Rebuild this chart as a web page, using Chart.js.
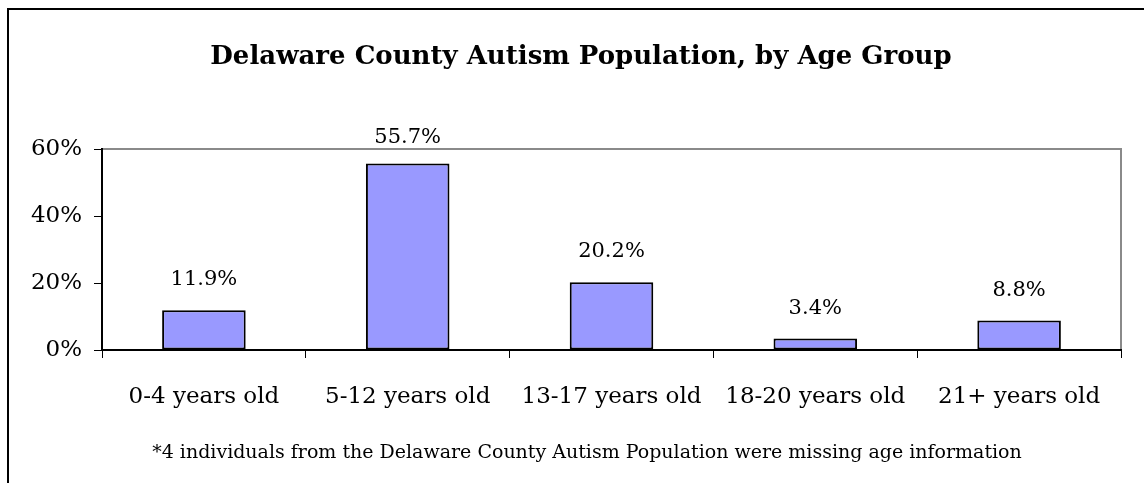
<!DOCTYPE html>
<html>
<head>
<meta charset="utf-8">
<script src="https://cdn.jsdelivr.net/npm/chart.js@4/dist/chart.umd.min.js"></script>
<style>
  body { margin: 0; background: #fff; }
  #wrap { width: 1144px; height: 483px; }
</style>
</head>
<body>
<div id="wrap"><canvas id="ageChart" width="1144" height="483"></canvas></div>
<script>
// chart data
const ageGroups = ['0-4 years old', '5-12 years old', '13-17 years old', '18-20 years old', '21+ years old'];
const percentValues = [11.9, 55.7, 20.2, 3.4, 8.8];
const yTicks = [0, 20, 40, 60];

const chartTitle = 'Delaware County Autism Population, by Age Group';
const footNote = '*4 individuals from the Delaware County Autism Population were missing age information';

const serif = "'DejaVu Serif', 'Liberation Serif', serif";

// outer frame, plot box, titles and value labels
const framePlugin = {
  id: 'frame',
  beforeDraw(chart) {
    const ctx = chart.ctx;
    ctx.save();
    ctx.fillStyle = '#fff';
    ctx.fillRect(0, 0, chart.width, chart.height);
    ctx.strokeStyle = '#000';
    ctx.lineWidth = 2;
    ctx.strokeRect(8, 9, 1300, 700);
    // plot area box (top/right are grey)
    const a = chart.chartArea;
    ctx.strokeStyle = '#8a8a8a';
    ctx.strokeRect(a.left, a.top, a.right - a.left, a.bottom - a.top);
    ctx.restore();
  },
  afterDraw(chart) {
    const ctx = chart.ctx;
    ctx.save();
    ctx.fillStyle = '#000';
    ctx.textAlign = 'center';
    ctx.textBaseline = 'alphabetic';
    ctx.font = "bold 26px " + serif;
    ctx.fillText(chartTitle, 581, 64);
    ctx.font = "19px " + serif;
    ctx.fillText(footNote, 587, 458);

    // value labels above bars
    ctx.font = "21px " + serif;
    const meta = chart.getDatasetMeta(0);
    meta.data.forEach(function(bar, i) {
      const v = percentValues[i];
      let y = bar.y - 25;
      if (y < chart.chartArea.top - 6) y = chart.chartArea.top - 6;
      ctx.fillText(v.toFixed(1) + '%', bar.x, y);
    });
    ctx.restore();
  }
};

const ctx = document.getElementById('ageChart').getContext('2d');
const ageChart = new Chart(ctx, {
  type: 'bar',
  data: {
    labels: ageGroups,
    datasets: [{
      data: percentValues,
      backgroundColor: '#9999ff',
      borderColor: '#000',
      borderWidth: 2,
      borderSkipped: false,
      barPercentage: 0.41,
      categoryPercentage: 1
    }]
  },
  options: {
    responsive: false,
    animation: false,
    layout: { padding: { top: 149, left: 18, right: 23, bottom: 72 } },
    plugins: {
      legend: { display: false },
      title: { display: false },
      tooltip: { enabled: false }
    },
    scales: {
      x: {
        offset: true,
        grid: {
          offset: true,
          drawOnChartArea: false,
          drawTicks: true,
          tickLength: 8,
          tickColor: '#000',
          tickWidth: 1
        },
        border: { color: '#000', width: 2 },
        ticks: {
          color: '#000',
          padding: 25,
          maxRotation: 0,
          font: { family: serif, size: 23 }
        },
        afterFit(scale) { scale.height = 61; }
      },
      y: {
        min: 0,
        max: 60,
        afterBuildTicks(scale) { scale.ticks = yTicks.map(v => ({ value: v })); },
        grid: {
          drawOnChartArea: false,
          tickLength: 8,
          tickColor: '#000',
          tickWidth: 1
        },
        border: { color: '#000', width: 2 },
        ticks: {
          color: '#000',
          padding: 12,
          font: { family: serif, size: 23 },
          callback: function(v) { return v + '%'; }
        },
        afterFit(scale) { scale.width = 84; }
      }
    }
  },
  plugins: [framePlugin]
});
</script>
</body>
</html>
